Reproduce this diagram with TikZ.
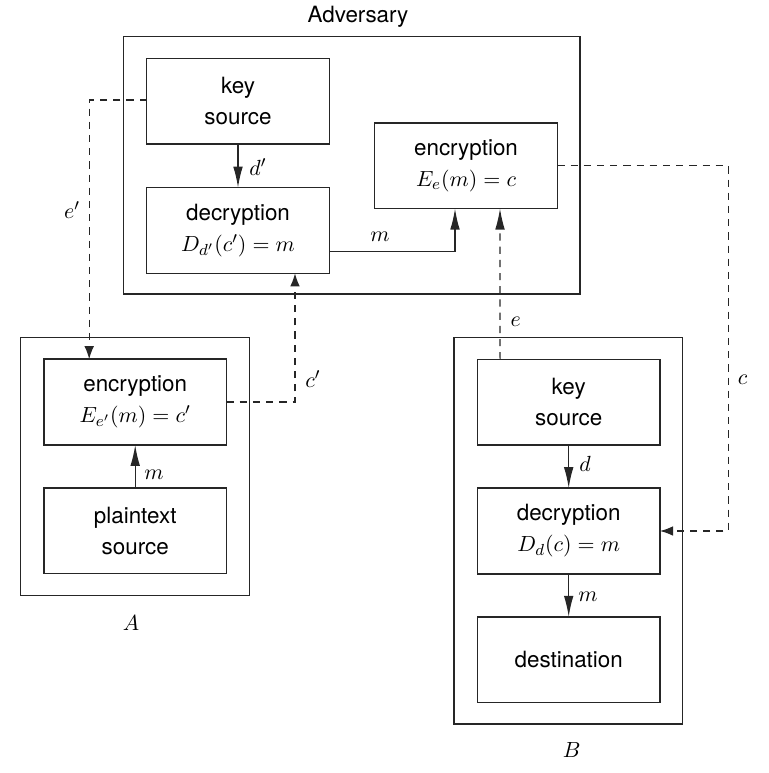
\documentclass[tikz,border=0pt]{standalone}
\usepackage{fontspec}
\setmainfont{TeX Gyre Heros}
\usetikzlibrary{arrows.meta,calc}
\begin{document}
\begin{tikzpicture}[x=0.5pt,y=-0.5pt,
  font=\fontsize{11.2}{15.5}\selectfont,
  blk/.style={draw=black!85,line width=0.75pt,minimum width=91.3pt,minimum height=42.8pt,align=center,inner sep=0pt,outer sep=0pt},
  frame/.style={draw=black!85,line width=0.75pt,inner sep=0pt,outer sep=0pt},
  sarr/.style={draw=black!85,line width=0.7pt,-{Latex[length=10.5pt,width=4.8pt]}},
  darr/.style={draw=black!85,line width=0.6pt,dash pattern=on 3.6pt off 3pt,-{Latex[length=6.5pt,width=4.8pt]}},
  dbig/.style={draw=black!85,line width=0.6pt,dash pattern=on 3.6pt off 3pt,-{Latex[length=10.5pt,width=4.8pt]}},
  lbl/.style={inner sep=0pt}]
\useasboundingbox (0,0) rectangle (768,773);
% frames
\node[frame,minimum width=228.35pt,minimum height=128.65pt] (advFrame) at (351.65,165.35) {};
\node[frame,minimum width=114.3pt,minimum height=129pt] (aFrame) at (135,466.3) {};
\node[frame,minimum width=114.35pt,minimum height=193.15pt] (bFrame) at (568.35,530.85) {};
% blocks
\node[blk] (advKey) at (238,101.3) {key\\source};
\node[blk] (advDec) at (238,230.5) {decryption\\$D_{d'}(c')=m$};
\node[blk] (advEnc) at (466,165.7) {encryption\\$E_e(m)=c$};
\node[blk] (aEnc) at (135.2,402) {encryption\\$E_{e'}(m)=c'$};
\node[blk] (aPlain) at (135.2,530.7) {plaintext\\source};
\node[blk] (bKey) at (568.7,402.2) {key\\source};
\node[blk] (bDec) at (568.7,531) {decryption\\$D_d(c)=m$};
\node[blk] (bDest) at (568.7,659.7) {destination};
% labels
\node[lbl] (lAdv) at (358,17) {Adversary};
\node[lbl] (lA) at (131,623) {$A$};
\node[lbl] (lB) at (571.7,750) {$B$};
\node[lbl] (ldp) at (258,167) {$d'$};
\node[lbl] (lmadv) at (380,237) {$m$};
\node[lbl] (lep) at (72,210) {$e'$};
\node[lbl] (lcp) at (313,379) {$c'$};
\node[lbl] (lma) at (154,475) {$m$};
\node[lbl] (le) at (515.7,321.7) {$e$};
\node[lbl] (lc) at (742.7,380) {$c$};
\node[lbl] (ld) at (585,464) {$d$};
\node[lbl] (lmb) at (588,597) {$m$};
% solid arrows
\draw[sarr] (advKey.south) -- (advDec.north);
\draw[sarr] ($(advDec.east)+(0,20.8)$) -| ($(advEnc.south)+(-11,0)$);
\draw[sarr] (aPlain.north) -- (aEnc.south);
\draw[sarr] (bKey.south) -- (bDec.north);
\draw[sarr] (bDec.south) -- (bDest.north);
% dashed arrows
\coordinate (cX) at (728.3,0);
\draw[darr] (advEnc.east) -- (advEnc.east -| cX) -- (bDec.east -| cX) -- (bDec.east);
\draw[darr] ($(advKey.west)+(0,-1.3)$) -| ($(aEnc.north west)+(45.3,0)$);
\draw[darr] (aEnc.east) -| ($(advDec.south)+(57,0)$);
\draw[dbig] ($(bKey.north west)+(22.7,0)$) -- ($(advEnc.south)+(34,0)$);
\end{tikzpicture}
\end{document}
